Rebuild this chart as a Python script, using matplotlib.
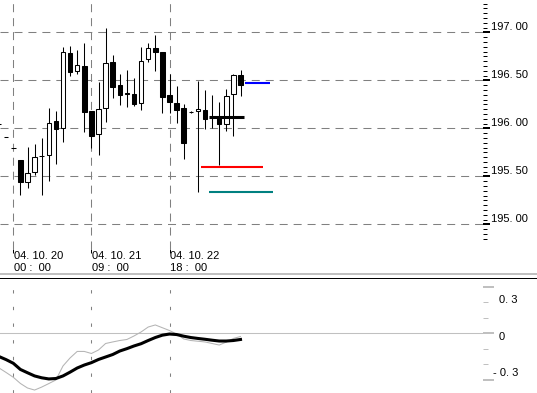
import matplotlib
matplotlib.use("Agg")
import matplotlib.pyplot as plt
from matplotlib.lines import Line2D
import numpy as np

plt.rcParams['font.family'] = ['Liberation Sans', 'DejaVu Sans']

# bar index 0 = '04.10.20 00:00, one bar = 3 hours
bars = list(range(-2, 33))
opens = [196.05, 195.91, 195.80, 195.67, 195.44, 195.54, 195.71, 195.72, 196.08, 196.00,
         196.78, 196.60, 196.65, 196.18, 195.94, 196.21, 196.69, 196.45, 196.37, 196.36,
         196.26, 196.72, 196.84, 196.80, 196.35, 196.26, 196.21, 196.17, 196.18, 196.19,
         196.12, 196.12, 196.04, 196.36, 196.56]
highs = [196.05, 195.91, 195.80, 195.67, 195.81, 195.84, 195.90, 196.21, 196.18, 196.85,
         196.86, 196.82, 196.89, 196.18, 196.48, 197.04, 196.76, 196.57, 196.61, 196.52,
         196.85, 196.89, 196.97, 196.80, 196.57, 196.44, 196.25, 196.18, 196.49, 196.40,
         196.35, 196.27, 196.41, 196.57, 196.61]
lows = [196.05, 195.91, 195.80, 195.31, 195.38, 195.51, 195.31, 195.45, 195.63, 195.86,
        196.54, 196.57, 195.96, 195.79, 195.72, 196.07, 196.32, 196.24, 196.22, 196.23,
        196.19, 196.69, 196.60, 196.16, 196.16, 196.06, 195.68, 196.16, 195.34, 195.99,
        196.00, 195.62, 195.97, 195.92, 196.34]
closes = [196.05, 195.91, 195.80, 195.44, 195.53, 195.70, 195.71, 196.06, 195.99, 196.79,
          196.59, 196.66, 196.17, 195.92, 196.20, 196.68, 196.43, 196.35, 196.36, 196.25,
          196.70, 196.84, 196.80, 196.33, 196.27, 196.19, 195.85, 196.17, 196.20, 196.10,
          196.11, 196.04, 196.34, 196.56, 196.45]

# oscillator (lower panel)
macd = [-0.337, -0.381, -0.427, -0.487, -0.531, -0.551, -0.522, -0.488, -0.453, -0.317,
        -0.239, -0.176, -0.176, -0.196, -0.162, -0.099, -0.084, -0.070, -0.060, -0.026,
        0.013, 0.061, 0.081, 0.054, 0.027, -0.007, -0.055, -0.070, -0.077, -0.084,
        -0.099, -0.114, -0.085, -0.050, -0.031]
signal = [-0.226, -0.256, -0.291, -0.351, -0.383, -0.414, -0.432, -0.443, -0.439, -0.414,
          -0.377, -0.337, -0.308, -0.285, -0.254, -0.230, -0.206, -0.172, -0.149, -0.123,
          -0.101, -0.070, -0.041, -0.018, -0.007, -0.012, -0.028, -0.041, -0.050, -0.058,
          -0.067, -0.075, -0.075, -0.070, -0.060]

# horizontal level lines
levels = [196.12, 195.60, 195.34, 196.475]
level_start = [27.6, 26.4, 27.6, 32.6]
level_end = [32.5, 35.1, 36.6, 36.1]
level_colors = ['black', '#ff0000', '#008080', '#0000ff']
level_widths = [2.2, 1.5, 1.5, 1.5]

price_ticks = [195.0, 195.5, 196.0, 196.5, 197.0]
date_ticks = [0, 11, 22]
date_top = ["04. 10. 20", "04. 10. 21", "04. 10. 22"]
date_bottom = ["00 :  00", "09 :  00", "18 :  00"]

# dash lengths are scaled by the line width, so these are in units of lw
grid_style = dict(color='#808080', lw=0.75, ls=(0, (7.7, 5.7)))
lite = '#c0c0c0'

fig = plt.figure(figsize=(5.37, 3.93), dpi=100)
ax = fig.add_axes([0, 144 / 393, 483 / 537, 249 / 393])
ax2 = fig.add_axes([0, 0, 483 / 537, 115 / 393])

xlim = (-13.3 / 7.1, (483 - 13.3) / 7.1)

# ---- price panel
for p in price_ticks:
    ax.axhline(p, zorder=0, **grid_style)
for d in date_ticks:
    ax.axvline(d, zorder=0, **grid_style)

ax.vlines(bars, lows, highs, color='black', lw=0.75, zorder=2)
bottoms = [min(o, c) for o, c in zip(opens, closes)]
heights = [abs(c - o) for o, c in zip(opens, closes)]
faces = ['white' if c >= o else 'black' for o, c in zip(opens, closes)]
ax.bar(bars, heights, bottom=bottoms, width=0.62, color=faces,
       edgecolor='black', linewidth=0.75, zorder=3)

for lv, s, e, col, w in zip(levels, level_start, level_end, level_colors, level_widths):
    ax.plot([s, e], [lv, lv], color=col, lw=w, solid_capstyle='butt', zorder=4)

ax.set_xlim(*xlim)
ax.set_ylim(196 - (249 - 128.3) / 96, 196 + 128.3 / 96)
for sp in ax.spines.values():
    sp.set_visible(False)

ax.yaxis.tick_right()
ax.set_yticks(price_ticks)
ax.set_yticks(np.round(np.arange(194.85, 197.31, 0.05), 2), minor=True)
ax.tick_params(axis='y', which='major', length=5, width=1.44, labelright=False)
ax.tick_params(axis='y', which='minor', length=2.9, width=0.72)
ax.set_xticks(date_ticks)
ax.tick_params(axis='x', length=2.9, width=0.72, labelbottom=False)

for p in price_ticks:
    ax.annotate(f"{p:.2f}".replace('.', '. '), xy=(1, p),
                xycoords=('axes fraction', 'data'), xytext=(5.5, 1.7),
                textcoords='offset points', va='baseline', ha='left', fontsize=8)

for d, t1, t2 in zip(date_ticks, date_top, date_bottom):
    ax.annotate(t1, xy=(d, 0), xycoords=('data', 'axes fraction'), xytext=(0.6, -7.4),
                textcoords='offset points', va='baseline', ha='left', fontsize=8)
    ax.annotate(t2, xy=(d, 0), xycoords=('data', 'axes fraction'), xytext=(0.6, -15.8),
                textcoords='offset points', va='baseline', ha='left', fontsize=8)

# ---- oscillator panel
for d in date_ticks:
    ax2.axvline(d, color='#808080', lw=0.75, ls=(0, (3.2, 12.8)), zorder=0)
ax2.axhline(0, color=lite, lw=0.75, zorder=1)
ax2.plot(bars, macd, color='#b4b4b4', lw=0.75, zorder=2)
ax2.plot(bars, signal, color='black', lw=2.2, zorder=3)

ax2.set_xlim(*xlim)
ax2.set_ylim((333.3 - 393) / 103, (333.3 - 278) / 103)
for sp in ax2.spines.values():
    sp.set_visible(False)
ax2.yaxis.tick_right()
ax2.set_xticks([])
ax2.set_yticks([-0.45, 0, 0.45])
ax2.set_yticks([-0.3, -0.15, 0.15, 0.3], minor=True)
ax2.tick_params(axis='y', which='major', length=7.9, width=1.44, color=lite, labelright=False)
ax2.tick_params(axis='y', which='minor', length=3.4, width=0.72, color=lite)

for txt, yv, dx in [("0. 3", 0.297, 11.5), ("0", -0.065, 11.5), ("- 0. 3", -0.415, 7.2)]:
    ax2.annotate(txt, xy=(1, yv), xycoords=('axes fraction', 'data'), xytext=(dx, 0),
                 textcoords='offset points', va='baseline', ha='left', fontsize=8)

# separator between the panels
fig.add_artist(Line2D([0, 1], [(393 - 273.5) / 393] * 2, transform=fig.transFigure,
                      color=lite, lw=1.44))
fig.add_artist(Line2D([0, 1], [(393 - 277.5) / 393] * 2, transform=fig.transFigure,
                      color='black', lw=0.72))

fig.savefig('out.png', dpi=100)
